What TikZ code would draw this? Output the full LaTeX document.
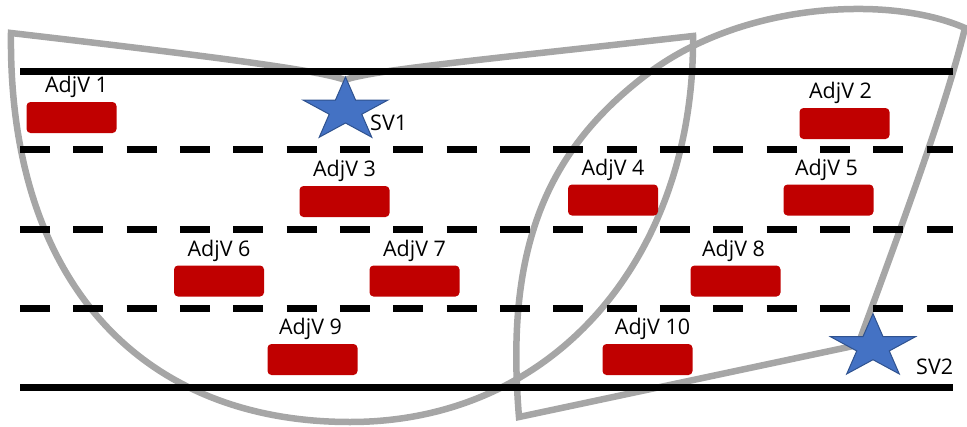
\documentclass[tikz,border=0pt]{standalone}
\usepackage{fontspec}
\setmainfont{Open Sans}
\usetikzlibrary{positioning}
\definecolor{vehred}{HTML}{C00000}
\definecolor{svblue}{HTML}{4472C4}
\definecolor{svedge}{HTML}{2F528F}
\definecolor{zonegray}{HTML}{A6A6A6}
% five-point star around a named coordinate
\newcommand{\svstar}[1]{%
  \filldraw[svmark] (#1) +(270:44.7 and 33.3)
    \foreach \a in {0,72,...,288}{ -- +(306+\a:17.1 and 12.7) -- +(342+\a:44.7 and 33.3)} -- cycle;}

\begin{document}
\begin{tikzpicture}[x=1pt,y=-1pt,
  lane/.style={line width=7pt},
  lanedash/.style={lane,dash pattern=on 30pt off 23.33pt},
  zone/.style={draw=zonegray,line width=6.5pt},
  vehicle/.style={rounded corners=4pt,fill=vehred,minimum width=90pt,minimum height=31pt,inner sep=0pt},
  tag/.style={font=\fontsize{21.5}{24}\selectfont,inner sep=0pt,anchor=base},
  svmark/.style={fill=svblue,draw=svedge,line width=1pt}]
\useasboundingbox (0,0) rectangle (967,426);

% coverage zones
\draw[zone] (11,33) .. controls (200,55) and (320,70) .. (345,80)
  .. controls (370,70) and (500,58) .. (693,36)
  .. controls (695,250) and (560,422) .. (350,422)
  .. controls (140,422) and (8,280) .. cycle;
\draw[zone] (519,417) .. controls (505,250) and (545,150) .. (650,72)
  .. controls (745,2) and (890,-5) .. (965,28)
  .. controls (945,110) and (900,230) .. (858,345) -- cycle;

% road and lane markings
\foreach \n/\y in {0/71,1/149,2/229,3/308,4/387}{
  \coordinate (lane\n w) at (20,\y);
  \coordinate (lane\n e) at (953,\y);
}
\draw[lane] (lane0w) -- (lane0e);
\draw[lanedash] (lane1w) -- (lane1e);
\draw[lanedash] (lane2w) -- (lane2e);
\draw[lanedash] (lane3w) -- (lane3e);
\draw[lane] (lane4w) -- (lane4e);

% vehicles
\node[vehicle] (adj1) at (71.5,117.5) {};
\node[vehicle] (adj2) at (844.5,123.5) {};
\node[vehicle] (adj3) at (344.5,201.5) {};
\node[vehicle] (adj4) at (613,200) {};
\node[vehicle] (adj5) at (828.5,200) {};
\node[vehicle] (adj6) at (219,281) {};
\node[vehicle] (adj7) at (414.5,281) {};
\node[vehicle] (adj8) at (735.5,281) {};
\node[vehicle] (adj9) at (312.5,359.5) {};
\node[vehicle] (adj10) at (647.5,359.5) {};

\node[above=9pt of adj1,tag,xshift=5pt] (adj1tag) {AdjV 1};
\node[above=9pt of adj2,tag,xshift=-4pt] (adj2tag) {AdjV 2};
\node[above=9pt of adj3,tag] (adj3tag) {AdjV 3};
\node[above=9pt of adj4,tag] (adj4tag) {AdjV 4};
\node[above=9pt of adj5,tag,xshift=-2pt] (adj5tag) {AdjV 5};
\node[above=9pt of adj6,tag] (adj6tag) {AdjV 6};
\node[above=9pt of adj7,tag] (adj7tag) {AdjV 7};
\node[above=9pt of adj8,tag,xshift=-2pt] (adj8tag) {AdjV 8};
\node[above=9pt of adj9,tag,xshift=-2pt] (adj9tag) {AdjV 9};
\node[above=9pt of adj10,tag,xshift=5pt] (adj10tag) {AdjV 10};

% stations
\coordinate (sv1) at (345.5,110.3);
\coordinate (sv2) at (873,347);
\svstar{sv1}
\svstar{sv2}
\node[tag,anchor=base west] (sv1tag) at (370,130) {SV1};
\node[tag,anchor=base west] (sv2tag) at (916,374) {SV2};
\end{tikzpicture}
\end{document}
